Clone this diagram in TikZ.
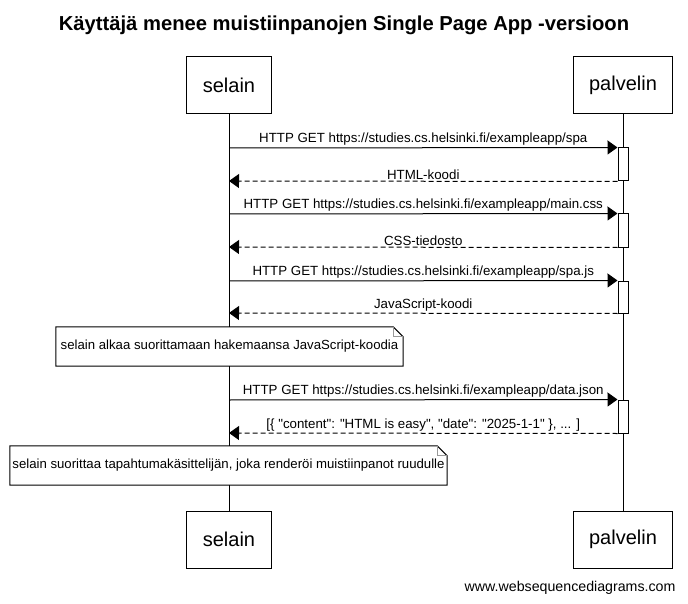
\documentclass[tikz,border=0pt]{standalone}
\usepackage{fontspec}
\setmainfont{Liberation Sans}[Ligatures=TeXOff]
\usetikzlibrary{positioning,arrows.meta}
\definecolor{fold}{rgb}{0.6,0.6,0.6}
\tikzset{
  actor/.style = {draw,line width=1pt,fill=white,minimum height=57pt,inner xsep=16pt,font=\fontsize{20}{24}\selectfont},
  life/.style = {line width=1pt},
  act/.style = {draw,line width=1pt,fill=white,minimum width=10pt,inner sep=0pt},
  msg/.style = {line width=1pt,-{Triangle[length=10pt,width=14pt]}},
  ret/.style = {msg,dashed,dash pattern=on 5pt off 3pt},
  lab/.style = {above=0.5pt,midway,font=\fontsize{13.3}{16}\selectfont,inner sep=1pt},
  note/.style = {fill=white,minimum height=39pt,inner xsep=2pt,font=\fontsize{13.2}{16}\selectfont},
  noteline/.style = {line width=1pt},
  foldline/.style = {fold,line width=1pt}
}
\newlength{\dogear}
\setlength{\dogear}{10pt}

\begin{document}
\begin{tikzpicture}[x=1pt,y=-1pt]
\useasboundingbox (0,0) rectangle (688,604);

\node[font=\fontsize{20.2}{24}\bfseries] (title) at (344,25) {Käyttäjä menee muistiinpanojen Single Page App -versioon};

\node[actor] (selT) at (229,85.5) {selain};
\node[actor] (palT) at (623,85.5) {palvelin};
\node[actor] (selB) at (229,539.5) {selain};
\node[actor] (palB) at (623,539.5) {palvelin};

\draw[life] (selT.south) -- (selB.north);
\draw[life] (palT.south) -- (palB.north);

% activations on palvelin
\node[act,minimum height=33pt] (a1) at (623,164.5) {};
\node[act,minimum height=33pt] (a2) at (623,230.5) {};
\node[act,minimum height=32pt] (a3) at (623,297) {};
\node[act,minimum height=33pt] (a4) at (623,416.5) {};

% points on selain lifeline
\coordinate (s1) at (229,148);
\coordinate (s2) at (229,181);
\coordinate (s3) at (229,214);
\coordinate (s4) at (229,247);
\coordinate (s5) at (229,281);
\coordinate (s6) at (229,313);
\coordinate (s7) at (229,400);
\coordinate (s8) at (229,433);

\draw[msg] (s1) -- node[lab] {HTTP GET https://studies.cs.helsinki.fi/exampleapp/spa} (a1.north west);
\draw[ret] (a1.south west) -- node[lab] {HTML-koodi} (s2);
\draw[msg] (s3) -- node[lab] {HTTP GET https://studies.cs.helsinki.fi/exampleapp/main.css} (a2.north west);
\draw[ret] (a2.south west) -- node[lab] {CSS-tiedosto} (s4);
\draw[msg] (s5) -- node[lab] {HTTP GET https://studies.cs.helsinki.fi/exampleapp/spa.js} (a3.north west);
\draw[ret] (a3.south west) -- node[lab] {JavaScript-koodi} (s6);

\node[note,minimum width=347pt] (n1) at (229.5,346.5) {selain alkaa suorittamaan hakemaansa JavaScript-koodia};
\draw[noteline] (n1.south west) -- (n1.north west) -- ([xshift=-\dogear]n1.north east)
  -- ([yshift=-\dogear]n1.north east) -- (n1.south east) -- cycle;
\draw[foldline] ([xshift=-\dogear]n1.north east) |- ([yshift=-\dogear]n1.north east);

\draw[msg] (s7) -- node[lab] {HTTP GET https://studies.cs.helsinki.fi/exampleapp/data.json} (a4.north west);
\draw[ret] (a4.south west) -- node[lab] {[\{ "content": "HTML is easy", "date": "2025-1-1" \}, ... ]} (s8);

\node[note,minimum width=437pt] (n2) at (228.5,465.5) {selain suorittaa tapahtumakäsittelijän, joka renderöi muistiinpanot ruudulle};
\draw[noteline] (n2.south west) -- (n2.north west) -- ([xshift=-\dogear]n2.north east)
  -- ([yshift=-\dogear]n2.north east) -- (n2.south east) -- cycle;
\draw[foldline] ([xshift=-\dogear]n2.north east) |- ([yshift=-\dogear]n2.north east);

\node[anchor=east,font=\fontsize{14.2}{17}\selectfont] (wsd) at (679,588) {www.websequencediagrams.com};
\end{tikzpicture}
\end{document}
